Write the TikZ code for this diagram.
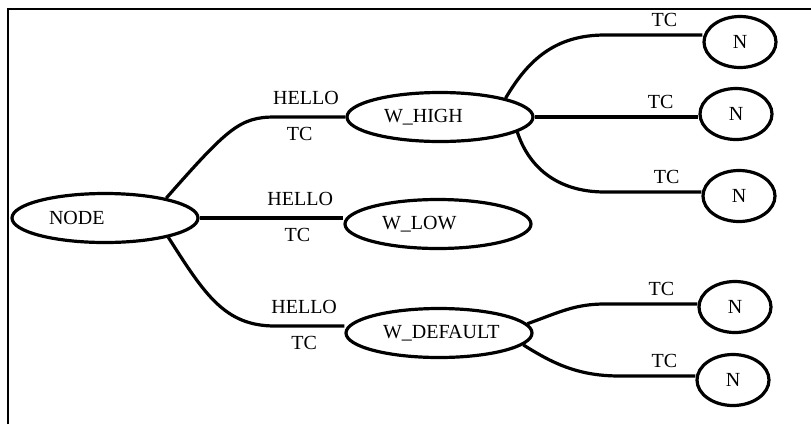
\documentclass[tikz,border=0pt]{standalone}
\usepackage{fontspec}
\setmainfont{Liberation Serif}
\usetikzlibrary{shapes.geometric}
\begin{document}
\begin{tikzpicture}[x=1pt,y=-1pt,font=\fontsize{20pt}{24pt}\selectfont,
	ellbox/.style={draw,ellipse,line width=3.2pt,minimum width=186pt,minimum height=49pt,
		inner sep=0pt,text width=112pt,align=left},
	leaf/.style={draw,ellipse,line width=3.2pt,minimum width=72pt,minimum height=51pt,inner sep=0pt},
	lbl/.style={inner sep=2pt},
	wire/.style={line width=3.2pt}]
		\useasboundingbox (0,0) rectangle (811,424);
		\draw [line width=1.5pt] (8,424) -- (8,9) -- (811,9);
		% ellipses
		\node [ellbox] (root) at (105,218) {NODE};
		\node [ellbox] (whigh) at (440,117) {W\_HIGH};
		\node [ellbox] (wlow) at (438,224) {W\_LOW};
		\node [ellbox] (wdef) at (439,333) {W\_DEFAULT};
		\node [leaf] (n1) at (740,42) {N};
		\node [leaf] (n2) at (736,114) {N};
		\node [leaf] (n3) at (739,196) {N};
		\node [leaf] (n4) at (735,307) {N};
		\node [leaf] (n5) at (733,380) {N};
		% bends
		\coordinate (k1) at (275,117);
		\coordinate (k3) at (275,326);
		\coordinate (k4) at (605,35);
		\coordinate (k5) at (605,192);
		\coordinate (k6) at (605,304);
		\coordinate (k7) at (620,376);
		% edges
		\draw [wire] (root.18) .. controls (228,128) and (240,117) .. (k1)
			-- node [lbl,pos=.44,above=9pt] {HELLO} node [lbl,pos=.35,below=7pt] {TC} (k1 -| whigh.west);
		\draw [wire] (root.east)
			-- node [lbl,pos=.7,above=9pt] {HELLO} node [lbl,pos=.68,below=7pt] {TC} (root.east -| wlow.west);
		\draw [wire] (root.-17) .. controls (205,295) and (225,326) .. (k3)
			-- node [lbl,pos=.42,above=9pt] {HELLO} node [lbl,pos=.42,below=7pt] {TC} (k3 -| wdef.west);
		\draw [wire] (whigh.16) .. controls (528,60) and (555,35) .. (k4)
			-- node [lbl,pos=.61,above=5pt] {TC} (k4 -| n1.west);
		\draw [wire] (whigh.east)
			-- node [lbl,pos=.77,above=5pt] {TC} (whigh.east -| n2.west);
		\draw [wire] (whigh.-11) .. controls (528,165) and (555,192) .. (k5)
			-- node [lbl,pos=.64,above=5pt] {TC} (k5 -| n3.west);
		\draw [wire] (wdef.6) .. controls (560,312) and (575,304) .. (k6)
			-- node [lbl,pos=.61,above=5pt] {TC} (k6 -| n4.west);
		\draw [wire] (wdef.-8) .. controls (555,365) and (580,376) .. (k7)
			-- node [lbl,pos=.59,above=5pt] {TC} (k7 -| n5.west);
	\end{tikzpicture}
\end{document}
